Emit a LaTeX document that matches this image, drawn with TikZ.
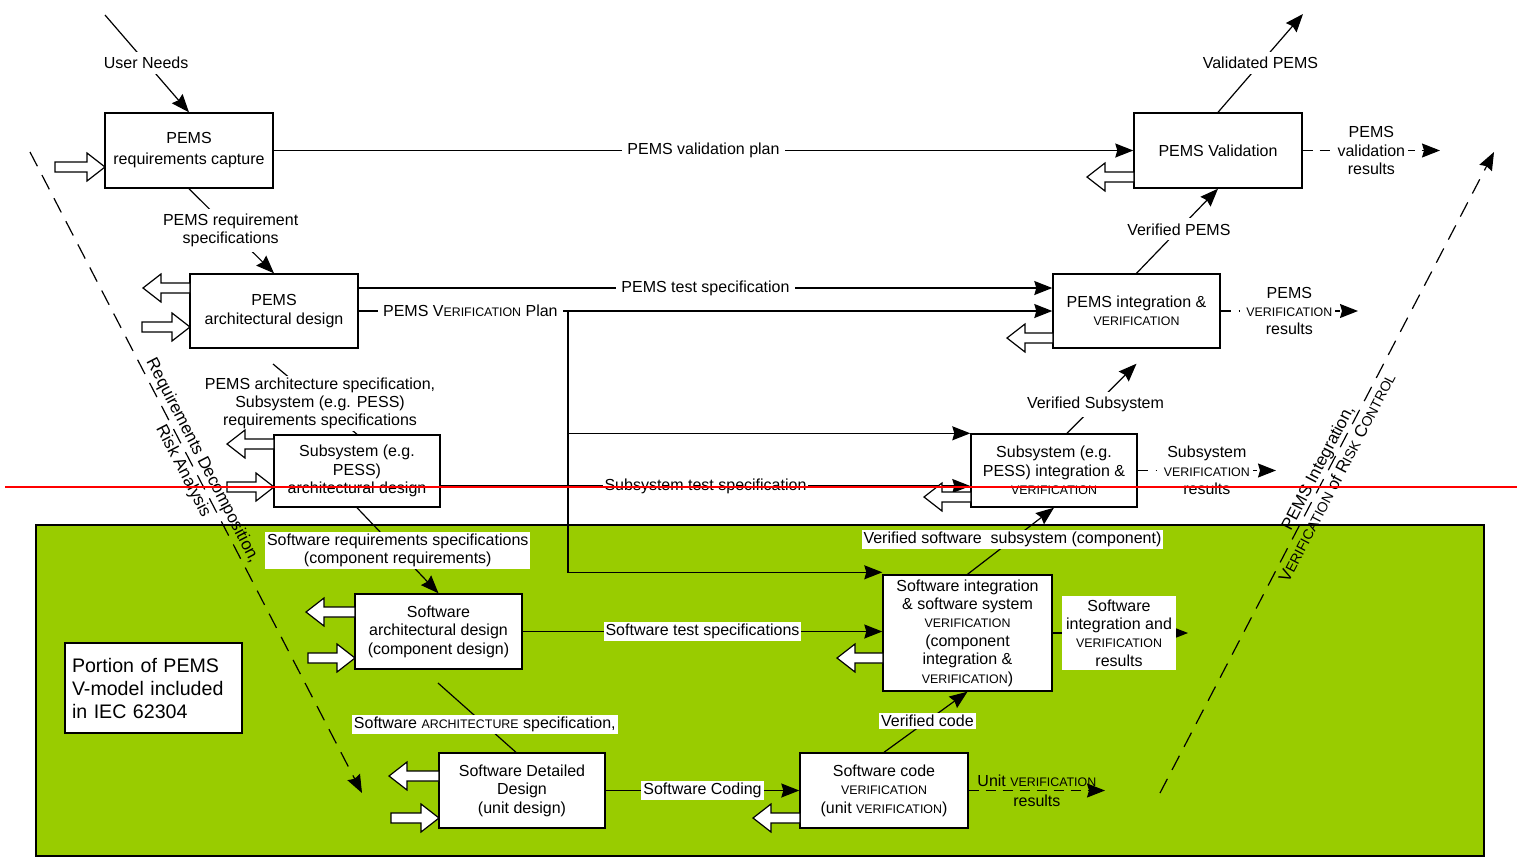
\documentclass[tikz,border=0pt]{standalone}
\usepackage{fontspec}
\setmainfont{Liberation Sans}
\usetikzlibrary{arrows.meta,calc}
\definecolor{swgreen}{HTML}{99CC00}
\newcommand\smc[1]{{\fontsize{6.2}{7}\selectfont #1}}
\newcommand\bsmc[1]{{\fontsize{7}{8}\selectfont #1}}
\newcommand\txt{\fontsize{8}{9.2}\selectfont}
% hollow block arrow: tail x, tip x, centre y
\newcommand\hollowarrow[3]{%
  \pgfmathsetmacro\hab{#2+18*sign(#1-#2)}%
  \draw[hollow] (#1,#3-5) -- (\hab,#3-5) -- (\hab,#3-14) -- (#2,#3)
    -- (\hab,#3+14) -- (\hab,#3+5) -- (#1,#3+5) -- cycle;}
\tikzset{
  conn/.style={line width=0.6pt},
  tip/.style={-{Stealth[length=9pt,width=7pt,inset=1pt]}},
  arr/.style={conn, tip},
  box/.style={draw, line width=0.7pt, fill=white, align=center, inner sep=1pt, font=\txt},
  lblw/.style={fill=white, inner sep=2.5pt, align=center, font=\txt},
  lblg/.style={fill=white, inner sep=1pt, align=center, font=\txt},
  hollow/.style={draw, fill=white, line width=0.6pt, line join=miter},
  bigdash/.style={dash pattern=on 8pt off 5pt},
  resdash/.style={dash pattern=on 5pt off 3.5pt},
  resdot/.style={dash pattern=on 5pt off 4pt on 0.6pt off 4pt},
}
\begin{document}
\begin{tikzpicture}[x=0.5pt,y=-0.5pt]
\useasboundingbox (0,0) rectangle (1517,858);

% software portion of the V-model
\fill[swgreen] (36,525) rectangle (1484,856);
\draw[line width=0.7pt] (36,525) rectangle (1484,856);

% boxes, left branch
\node[box, minimum width=84pt, minimum height=37.5pt, font=\fontsize{8}{10.5}\selectfont] (reqcap) at (189,150.5) {PEMS\\requirements capture};
\node[box, minimum width=84pt, minimum height=37pt] (pemsarch) at (274,311) {PEMS\\architectural design};
\node[box, minimum width=83pt, minimum height=36pt] (subarch) at (357,471) {Subsystem (e.g.\\PESS)\\architectural design};
\node[box, minimum width=83.5pt, minimum height=37.5pt] (swarch) at (438.5,631.5) {Software\\architectural design\\(component design)};
\node[box, minimum width=83pt, minimum height=37.5pt] (swdet) at (522,790.5) {Software Detailed\\Design\\(unit design)};

% boxes, right branch
\node[box, minimum width=84pt, minimum height=37.5pt] (swcode) at (884,790.5) {Software code\\\smc{VERIFICATION}\\(unit \smc{VERIFICATION})};
\node[box, minimum width=84.5pt, minimum height=58pt] (swint) at (967.5,633) {Software integration\\\& software system\\\smc{VERIFICATION}\\(component\\integration \&\\\smc{VERIFICATION})};
\node[box, minimum width=83pt, minimum height=36.5pt] (subint) at (1054,470.5) {Subsystem (e.g.\\PESS) integration \&\\\smc{VERIFICATION}};
\node[box, minimum width=83.5pt, minimum height=37pt] (pemsint) at (1136.5,311) {PEMS integration \&\\\smc{VERIFICATION}};
\node[box, minimum width=84pt, minimum height=37.5pt] (pemsval) at (1218,150.5) {PEMS Validation};

\node[box, text width=81.5pt, inner xsep=3.5pt, minimum height=45pt, align=left, font=\fontsize{9.8}{11.5}\selectfont] (portion) at (153.5,688) {Portion of PEMS\\V-model included\\in IEC 62304};

% big diagonals of the V
\coordinate (rdA) at (30,152);
\coordinate (rdB) at (362,793);
\draw[conn, bigdash, tip] (rdA) -- node[pos=0.49, sloped, align=center, font=\fontsize{8.5}{11}\selectfont] {Requirements Decomposition,\\Risk Analysis} (rdB);
\coordinate (riA) at (1160,793);
\coordinate (riB) at (1494,152);
\draw[conn, bigdash, tip] (riA) -- node[pos=0.5, sloped, align=center, font=\fontsize{8.5}{11}\selectfont] {PEMS Integration,\\V\bsmc{ERIFICATION} of R\bsmc{ISK} C\bsmc{ONTROL}} (riB);

% descending flow
\coordinate (userneeds) at (105,15);
\draw[arr] (userneeds) -- node[lblw, pos=0.49] {User Needs} (reqcap.north);
\draw[arr] (reqcap.south) -- node[lblw, pos=0.49] {PEMS requirement\\specifications} (pemsarch.north);
\coordinate (pas) at (273,364);
\draw[conn] (pas) -- node[lblw, inner ysep=1pt, pos=0.56] {PEMS architecture specification,\\Subsystem (e.g. PESS)\\requirements specifications} (subarch.north);
\draw[arr] (subarch.south) -- node[lblg, pos=0.5] {Software requirements specifications\\(component requirements)} (swarch.north);
\coordinate (sas) at (438,683);
\draw[conn] (sas) -- node[lblg, pos=0.6] {Software \smc{ARCHITECTURE} specification,} ([xshift=-3pt]swdet.north);

% plans and specifications across the V
\draw[arr] (reqcap.east) -- node[lblw] {PEMS validation plan} (pemsval.west);
\draw[arr] ([yshift=11.5pt]pemsarch.east) -- node[lblw] {PEMS test specification} ([yshift=11.5pt]pemsint.west);
\draw[arr] (pemsarch.east) -- node[lblw, pos=0.161] {PEMS V\smc{ERIFICATION} Plan} (pemsint.west);
\coordinate (vsplit) at (568,311);
\draw[arr] (vsplit) |- ([yshift=1pt]swint.north west);
\draw[arr] (vsplit |- subint.north west) -- (subint.north west);
\coordinate (sts) at ([yshift=-7.5pt]subarch.east);
\draw[arr] (sts) -- node[lblw, inner sep=1pt] {Subsystem test specification} (sts -| subint.west);
\draw[arr] (swarch.east) -- node[lblg] {Software test specifications} (swarch.east -| swint.west);
\draw[arr] (swdet.east) -- node[lblg] {Software Coding} (swcode.west);

% ascending flow
\draw[arr] (swcode.north) -- node[lblg, pos=0.52] {Verified code} (swint.south);
\draw[arr] (swint.north) -- node[lblg, pos=0.52] {Verified software~ subsystem (component)} (subint.south);
\draw[arr] ([xshift=6.5pt]subint.north) -- node[lblw, pos=0.41] {Verified Subsystem} ([yshift=-7.5pt]pemsint.south);
\draw[arr] (pemsint.north) -- node[lblw, pos=0.52] {Verified PEMS} (pemsval.south);
\coordinate (validated) at (1303,14);
\draw[arr] (pemsval.north) -- node[lblw, pos=0.5] {Validated PEMS} (validated);

% results
\coordinate (valres) at (1440,150.5);
\draw[arr, resdash] (pemsval.east) -- node[lblw, inner sep=1.5pt] {PEMS\\validation\\results} (valres);
\coordinate (pvres) at (1358,311);
\draw[arr, resdot] (pemsint.east) -- node[lblw, inner sep=1.5pt] {PEMS\\\smc{VERIFICATION}\\results} (pvres);
\coordinate (svres) at (1276,470.5);
\draw[arr, resdot] (subint.east) -- node[lblw, inner sep=1.5pt] {Subsystem\\\smc{VERIFICATION}\\results} (svres);
\coordinate (swres) at (1188,633);
\draw[arr, resdot] (swint.east) -- node[lblg, inner sep=2pt, pos=0.49] {Software\\integration and\\\smc{VERIFICATION}\\results} (swres);
\coordinate (unres) at (1105,790.5);
\draw[arr, resdash] (swcode.east) -- coordinate[pos=0.5] (urm) (unres);
\node[font=\txt, inner sep=0pt, above=1.5pt] at (urm) {Unit \smc{VERIFICATION}};
\node[font=\txt, inner sep=0pt, below=2pt] at (urm) {results};

% hollow feedback arrows
\hollowarrow{55}{105}{167}
\hollowarrow{190}{143}{288}
\hollowarrow{142}{190}{327}
\hollowarrow{274}{227}{444}
\hollowarrow{227}{274}{487}
\hollowarrow{355}{306}{612}
\hollowarrow{308}{355}{658}
\hollowarrow{439}{389}{776}
\hollowarrow{391}{439}{818}
\hollowarrow{800}{753}{818}
\hollowarrow{883}{837}{658}
\hollowarrow{971}{924}{497}
\hollowarrow{1053}{1007}{338}
\hollowarrow{1134}{1087}{177}

% red rule across the page
\draw[red, line width=1pt] (5,487) -- (1517,487);
\end{tikzpicture}
\end{document}
